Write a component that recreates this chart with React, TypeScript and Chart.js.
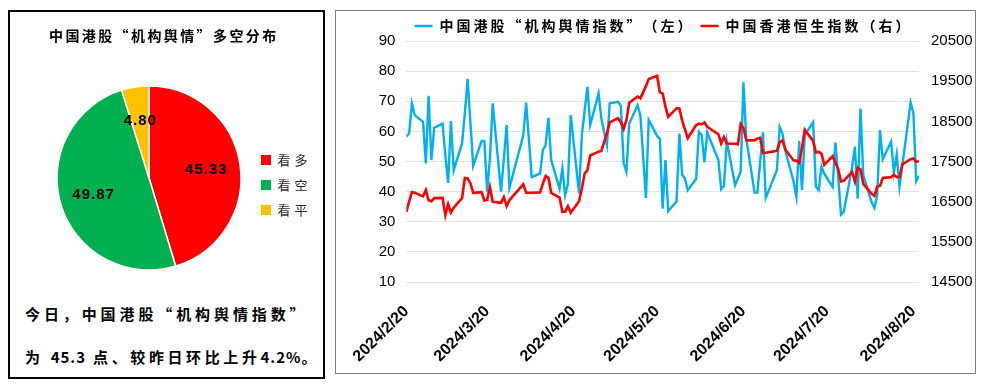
import React, { useEffect, useRef } from 'react';
import { Chart, registerables } from 'chart.js';

Chart.register(...registerables);

// ---------- data ----------
const pieTitle = '中国港股“机构舆情”多空分布';
const pieLabels = ['看多', '看空', '看平'];
const pieValues = [45.33, 49.87, 4.8];
const pieColors = ['#ff0000', '#00b050', '#ffc000'];

const summaryLine1 = '今日，中国港股“机构舆情指数”';
const summaryPrefix = '为';
const summaryValue = '45.3';
const summaryMiddle = '点、较昨日环比上升';
const summaryChange = '4.2%';
const summaryEnd = '。';

const YEAR = 2024;
const sentimentLabel = '中国港股“机构舆情指数”（左）';
const hsiLabel = '中国香港恒生指数（右）';

const tradeDates = [
  '2/20', '2/21', '2/22', '2/23', '2/26', '2/27', '2/28', '2/29',
  '3/1', '3/4', '3/5', '3/6', '3/7', '3/8', '3/11', '3/12', '3/13', '3/14', '3/15', '3/18', '3/19', '3/20', '3/21', '3/22', '3/25', '3/26', '3/27', '3/28',
  '4/2', '4/3', '4/5', '4/8', '4/9', '4/10', '4/11', '4/12', '4/15', '4/16', '4/17', '4/18', '4/19', '4/22', '4/23', '4/24', '4/25', '4/26', '4/29', '4/30',
  '5/2', '5/3', '5/6', '5/7', '5/8', '5/9', '5/10', '5/13', '5/14', '5/16', '5/17', '5/20', '5/21', '5/22', '5/23', '5/24', '5/27', '5/28', '5/29', '5/30', '5/31',
  '6/3', '6/4', '6/5', '6/6', '6/7', '6/11', '6/12', '6/13', '6/14', '6/17', '6/18', '6/19', '6/20', '6/21', '6/24', '6/25', '6/26', '6/27', '6/28',
  '7/2', '7/3', '7/4', '7/5', '7/8', '7/9', '7/10', '7/11', '7/12', '7/15', '7/16', '7/17', '7/18', '7/19', '7/22', '7/23', '7/24', '7/25', '7/26', '7/29', '7/30', '7/31',
  '8/1', '8/2', '8/5', '8/6', '8/7', '8/8', '8/9', '8/12', '8/13', '8/14', '8/15', '8/16', '8/19', '8/20', '8/21', '8/22',
];

const sentimentIndex = [
  58.2, 59.3, 69.3, 65.4, 63.2, 49.4, 71.8, 50.5,
  61.2, 62.6, 52.0, 42.9, 63.4, 47.1, 56.0, 66.0, 77.4, 63.0, 48.6, 56.8, 56.8, 40.0, 51.0, 69.3, 40.0, 51.0, 62.1, 41.3,
  58.8, 69.6, 44.9, 46.0, 53.8, 55.5, 64.5, 50.5, 41.0, 47.7, 38.8, 42.7, 65.4, 39.4, 58.8, 67.0, 74.8, 62.1, 72.6, 64.3,
  55.5, 69.3, 69.8, 68.5, 49.4, 46.6, 62.6, 68.7, 65.4, 37.9, 63.8, 58.5, 57.5, 34.4, 50.5, 33.5, 36.8, 59.3, 45.5, 44.4, 40.5,
  44.2, 59.9, 58.8, 49.7, 59.7, 50.5, 40.8, 41.9, 56.8, 42.2, 44.4, 46.6, 76.3, 57.7, 39.7, 39.7, 50.0, 59.7, 37.9,
  47.1, 61.5, 59.3, 53.8, 43.3, 38.3, 56.8, 40.5, 58.8, 63.0, 41.6, 40.5, 48.3, 46.0, 41.6, 56.3, 45.0, 32.4, 33.3, 48.2, 54.9, 37.7,
  67.6, 45.5, 36.5, 34.6, 38.8, 60.4, 50.8, 56.6, 46.4, 52.4, 41.6, 48.5, 69.6, 66.0, 43.5, 45.3,
];

const hangSengIndex = [
  16248, 16503, 16742, 16726, 16634, 16790, 16536, 16511,
  16589, 16596, 16163, 16438, 16230, 16353, 16588, 17093, 17082, 16962, 16721, 16737, 16529, 16543, 16863, 16499, 16473, 16618, 16392, 16541,
  16931, 16725, 16724, 16733, 16950, 17140, 17095, 16722, 16601, 16249, 16252, 16386, 16224, 16512, 16829, 17201, 17285, 17651, 17747, 17763,
  18207, 18476, 18578, 18479, 18313, 18538, 18963, 19115, 19074, 19377, 19553, 19636, 19221, 19195, 18868, 18609, 18827, 18821, 18520, 18300, 18079,
  18403, 18444, 18424, 18476, 18366, 18180, 17950, 18112, 17950, 17942, 17928, 18430, 18335, 18028, 18027, 18072, 18090, 17716, 17719,
  17769, 17979, 18028, 17800, 17524, 17523, 17471, 17832, 18293, 18015, 17727, 17740, 17700, 17417, 17635, 17469, 17311, 17005, 17022, 17238, 17003, 17344,
  17304, 16946, 16698, 16647, 16877, 16892, 17091, 17112, 17174, 17114, 17110, 17430, 17560, 17575, 17492, 17507,
];

const xTickLabels = ['2024/2/20', '2024/3/20', '2024/4/20', '2024/5/20', '2024/6/20', '2024/7/20', '2024/8/20'];

// ---------- helpers ----------
const CJK = '"Noto Sans CJK SC", "Noto Sans", sans-serif';
const LAT = '"Liberation Sans", Arial, sans-serif';

const dayNum = (y: number, m: number, d: number) => Math.round(Date.UTC(y, m - 1, d) / 86400000);
const parseMD = (s: string) => {
  const [m, d] = s.split('/').map(Number);
  return dayNum(YEAR, m, d);
};
const parseYMD = (s: string) => {
  const [y, m, d] = s.split('/').map(Number);
  return dayNum(y, m, d);
};
const day0 = parseMD(tradeDates[0]);
const dayOffsets = tradeDates.map((s) => parseMD(s) - day0);
const xTickValues = xTickLabels.map((s) => parseYMD(s) - day0);

function spaceBox(box: any, spacing: string, dx = 0, dy = 0) {
  if (!box) return;
  const origDraw = box.draw.bind(box);
  if (typeof box.fit === 'function') {
    const origFit = box.fit.bind(box);
    box.fit = function () {
      const c = box.ctx;
      c.save();
      c.letterSpacing = spacing;
      origFit();
      c.restore();
    };
  }
  box.draw = function (area: any) {
    const c = box.ctx;
    c.save();
    c.letterSpacing = spacing;
    c.translate(dx, dy);
    origDraw(area);
    c.restore();
  };
}

const pieValueLabels = {
  id: 'pieValueLabels',
  afterDatasetsDraw(chart: any) {
    const ctx = chart.ctx;
    const meta = chart.getDatasetMeta(0);
    ctx.save();
    ctx.font = `bold 15px ${LAT}`;
    ctx.fillStyle = '#000';
    ctx.textAlign = 'center';
    ctx.textBaseline = 'middle';
    ctx.letterSpacing = '1px';
    meta.data.forEach((arc: any, i: number) => {
      const p = arc.getProps(['x', 'y', 'startAngle', 'endAngle', 'outerRadius'], true);
      const mid = (p.startAngle + p.endAngle) / 2;
      const r = p.outerRadius * 0.63;
      ctx.fillText(pieValues[i].toFixed(2), p.x + Math.cos(mid) * r, p.y + Math.sin(mid) * r);
    });
    ctx.restore();
  },
};

// ---------- components ----------
function PieChart() {
  const ref = useRef<HTMLCanvasElement>(null);
  useEffect(() => {
    if (!ref.current) return;
    const defaultGen = (Chart as any).overrides.pie.plugins.legend.labels.generateLabels;
    const chart = new Chart(ref.current, {
      type: 'pie',
      data: {
        labels: pieLabels,
        datasets: [{ data: pieValues, backgroundColor: pieColors, borderColor: '#ffffff', borderWidth: 1.5 }],
      },
      options: {
        responsive: false,
        animation: false,
        layout: { padding: { left: 41, right: 2.5, top: 0, bottom: 19.25 } },
        plugins: {
          title: {
            display: true,
            text: pieTitle,
            align: 'start',
            color: '#000',
            font: { family: CJK, size: 14, weight: 'bold' },
            padding: { top: 17, bottom: 41.45 },
          },
          legend: {
            position: 'right',
            fullSize: false,
            labels: {
              boxWidth: 10,
              boxHeight: 10,
              padding: 12,
              color: '#262626',
              font: { family: CJK, size: 13 },
              generateLabels: (c: any) => defaultGen(c).map((l: any) => ({ ...l, lineWidth: 0 })),
            },
          },
          tooltip: { enabled: false },
        },
      } as any,
      plugins: [pieValueLabels],
    });
    spaceBox((chart as any).titleBlock, '2.4px');
    spaceBox((chart as any).legend, '4px', 0, 7);
    chart.update();
    return () => chart.destroy();
  }, []);
  return <canvas ref={ref} width={316} height={280} style={{ position: 'absolute', left: 8, top: 10, width: 316, height: 280 }} />;
}

function LineChart() {
  const ref = useRef<HTMLCanvasElement>(null);
  useEffect(() => {
    if (!ref.current) return;
    const tickFont = { family: LAT, size: 15 };
    const chart = new Chart(ref.current, {
      type: 'line',
      data: {
        datasets: [
          {
            label: sentimentLabel,
            data: dayOffsets.map((x, i) => ({ x, y: sentimentIndex[i] })),
            borderColor: '#00b0f0',
            backgroundColor: '#00b0f0',
            borderWidth: 2.4,
            pointRadius: 0,
            tension: 0,
            yAxisID: 'y',
            order: 2,
          },
          {
            label: hsiLabel,
            data: dayOffsets.map((x, i) => ({ x, y: hangSengIndex[i] })),
            borderColor: '#ff0000',
            backgroundColor: '#ff0000',
            borderWidth: 2.6,
            pointRadius: 0,
            tension: 0,
            yAxisID: 'y1',
            order: 1,
          },
        ],
      },
      options: {
        responsive: false,
        animation: false,
        layout: { padding: { left: 28.3, right: 1.3, top: 0, bottom: -1 } },
        plugins: {
          legend: {
            position: 'top',
            labels: {
              usePointStyle: true,
              pointStyle: 'line',
              pointStyleWidth: 18,
              padding: 6,
              color: '#000',
              font: { family: CJK, size: 14, weight: 'bold' },
              sort: (a: any, b: any) => a.datasetIndex - b.datasetIndex,
            },
          },
          tooltip: { enabled: false },
        },
        scales: {
          x: {
            type: 'linear',
            min: 0,
            max: dayOffsets[dayOffsets.length - 1],
            afterBuildTicks: (scale: any) => {
              scale.ticks = xTickValues.map((value) => ({ value }));
            },
            ticks: {
              autoSkip: false,
              minRotation: 45,
              maxRotation: 45,
              padding: 20,
              color: '#000',
              font: { family: LAT, size: 16, weight: 'bold' },
              callback: (_v: any, i: number) => xTickLabels[i],
            },
            grid: { display: false, drawTicks: false },
            border: { display: false },
          },
          y: {
            position: 'left',
            min: 10,
            max: 90,
            ticks: { stepSize: 10, padding: 11, color: '#000', font: tickFont, callback: (v: any) => String(v) },
            grid: { color: '#e2e2e2', drawTicks: false },
            border: { display: false },
          },
          y1: {
            position: 'right',
            min: 14500,
            max: 20500,
            ticks: { stepSize: 1000, padding: 12, color: '#000', font: tickFont, callback: (v: any) => String(v) },
            grid: { display: false, drawTicks: false },
            border: { display: false },
          },
        },
      } as any,
    });
    spaceBox((chart as any).legend, '3px', -11, 2);
    chart.update();
    return () => chart.destroy();
  }, []);
  return <canvas ref={ref} width={650} height={374} style={{ position: 'absolute', left: 336, top: 11, width: 650, height: 374 }} />;
}

const textStyle: React.CSSProperties = {
  position: 'absolute',
  left: 25,
  height: 20,
  lineHeight: '20px',
  fontFamily: CJK,
  fontWeight: 700,
  fontSize: 15,
  letterSpacing: '3.6px',
  color: '#000',
  whiteSpace: 'nowrap',
};
const numStyle: React.CSSProperties = { letterSpacing: '1px' };

export default function App() {
  return (
    <div style={{ position: 'absolute', left: 0, top: 0, width: 986, height: 385, background: '#fff', overflow: 'hidden' }}>
      <div style={{ position: 'absolute', left: 8, top: 10, width: 317, height: 369, border: '2px solid #000', boxSizing: 'border-box' }} />
      <div style={{ position: 'absolute', left: 335, top: 10, width: 641, height: 364, border: '1.5px solid #7f7f7f', boxSizing: 'border-box' }} />
      <PieChart />
      <div style={{ ...textStyle, top: 304, letterSpacing: '3.9px' }}>{summaryLine1}</div>
      <div style={{ ...textStyle, top: 347 }}>
        {summaryPrefix} <span style={numStyle}>{summaryValue}</span> {summaryMiddle}
        <span style={numStyle}>{summaryChange}</span>
        {summaryEnd}
      </div>
      <LineChart />
    </div>
  );
}
